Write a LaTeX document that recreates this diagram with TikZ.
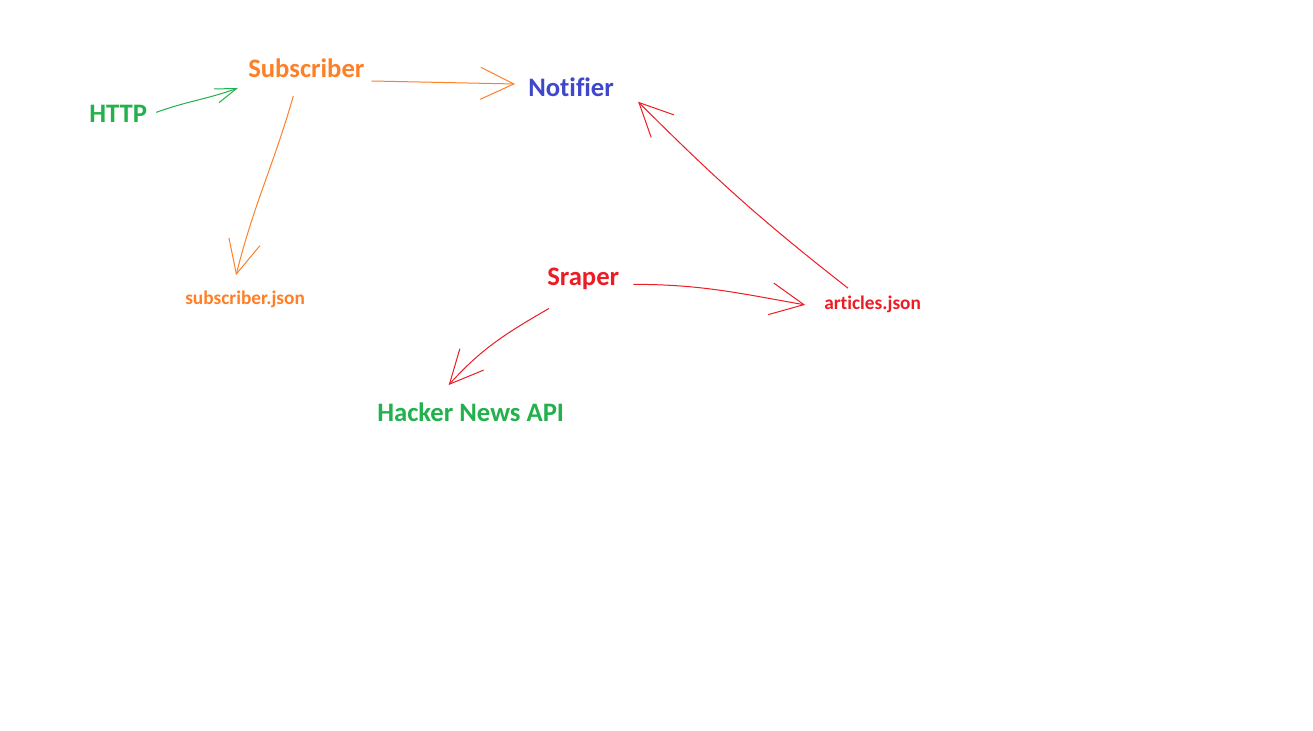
\documentclass[tikz,border=0pt]{standalone}
\usepackage{fontspec}
\setmainfont{Carlito}[Ligatures=NoCommon]
\usetikzlibrary{arrows.meta,calc}
\definecolor{pOrange}{HTML}{FF7F27}
\definecolor{pGreen}{HTML}{22B14C}
\definecolor{pBlue}{HTML}{3F48CC}
\definecolor{pRed}{HTML}{ED1C24}
\tikzset{
  lbl/.style={inner sep=0pt, anchor=base west, font=\fontsize{20}{24}\selectfont\bfseries},
  smalllbl/.style={lbl, font=\fontsize{14.5}{17}\selectfont\bfseries},
  pen/.style={line width=0.75pt, -{Straight Barb[length=25pt,width=24pt]}}
}
\begin{document}
\begin{tikzpicture}[x=0.75pt, y=-0.75pt]
\useasboundingbox[fill=white] (0,0) rectangle (1313,731);
\node[lbl, pGreen] (http) at (89,123) {HTTP};
\node[lbl, pOrange] (sub) at (248,78) {Subscriber};
\node[lbl, pBlue] (note) at (528,97) {Notifier};
\node[smalllbl, pOrange] (subj) at (185,304) {subscriber.json};
\node[lbl, pRed] (sraper) at (547,285) {Sraper};
\node[smalllbl, pRed] (arts) at (824,309) {articles.json};
\node[lbl, pGreen] (hn) at (377,421) {Hacker News API};
\draw[pen, pGreen, -{Straight Barb[length=16pt,width=11pt]}] ($(http.east)+(9,-2)$) to[out=20, in=200] ($(sub.base west)+(-10,10)$);
\draw[pen, pOrange] ($(sub.base east)+(7,3)$) -- ($(note.base west)+(-13,-13)$);
\draw[pen, pOrange] ($(sub.base)+(-13,18)$) to[out=-106, in=76] ($(subj.north)+(-9,-15)$);
\draw[pen, pRed] ($(arts.north west)+(24,-7)$) to[out=142, in=-45] ($(note.east)+(24,14)$);
\draw[pen, pRed] ($(sraper.east)+(14,6)$) to[out=0, in=170] ($(arts.west)+(-19,1)$);
\draw[pen, pRed] ($(sraper.south west)+(2,19)$) to[out=-150, in=48] ($(hn.north)+(-22,-17)$);
\end{tikzpicture}
\end{document}
